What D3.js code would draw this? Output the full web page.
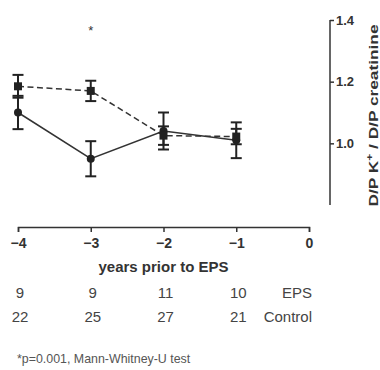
<!DOCTYPE html>
<html>
<head>
<meta charset="utf-8">
<script src="https://cdn.jsdelivr.net/npm/d3@7"></script>
<style>
  body { margin: 0; background: #fff; }
  svg { font-family: "Liberation Sans", Arial, sans-serif; }
  .axis path, .axis line { stroke: #333; stroke-width: 1.5; }
  .axis text { font-weight: bold; fill: #333; }
</style>
</head>
<body>
<div id="chart"></div>
<script>
const years = [-4, -3, -2, -1];
const xTicks = [-4, -3, -2, -1, 0];
const yTicks = [1.0, 1.2, 1.4];

const epsMean = [1.185, 1.17, 1.025, 1.022];
const epsErr = [0.037, 0.033, 0.03, 0.025];
const ctrlMean = [1.10, 0.95, 1.04, 1.01];
const ctrlErr = [0.054, 0.057, 0.06, 0.058];

const epsN = [9, 9, 11, 10];
const ctrlN = [22, 25, 27, 21];

const width = 380, height = 370;

const svg = d3.select("#chart").append("svg")
  .attr("width", width)
  .attr("height", height);

const x = d3.scaleLinear().domain([-4, 0]).range([18, 309]);
const y = d3.scaleLinear().domain([0.8, 1.4]).range([205, 20]);

// x axis
const xAxis = svg.append("g")
  .attr("class", "axis")
  .attr("transform", "translate(0,227)")
  .call(d3.axisBottom(x).tickValues(xTicks).tickFormat(d3.format("d"))
    .tickSize(5).tickPadding(6));
xAxis.selectAll("text").style("font-size", "14px");

svg.append("text")
  .attr("x", x(-2))
  .attr("y", 272)
  .attr("text-anchor", "middle")
  .style("font-size", "15px")
  .style("font-weight", "bold")
  .style("fill", "#333")
  .text("years prior to EPS");

// right y axis
const yAxis = svg.append("g")
  .attr("class", "axis")
  .attr("transform", "translate(330,0)")
  .call(d3.axisRight(y).tickValues(yTicks).tickFormat(d3.format(".1f"))
    .tickSize(4).tickSizeOuter(0).tickPadding(2));
yAxis.select(".domain").attr("d", `M0,${y(1.4)}V${y(0.8)}`);
yAxis.selectAll("text").style("font-size", "13px");

const yTitle = svg.append("text")
  .attr("transform", `translate(378,${(y(1.4) + y(0.8)) / 2 + 3}) rotate(-90)`)
  .attr("text-anchor", "middle")
  .attr("textLength", 182)
  .attr("lengthAdjust", "spacingAndGlyphs")
  .style("font-size", "13px")
  .style("font-weight", "bold")
  .style("fill", "#333");
yTitle.append("tspan").text("D/P K");
yTitle.append("tspan").attr("baseline-shift", "super").style("font-size", "9px").text("+");
yTitle.append("tspan").text(" / D/P creatinine");

// lines
const line = d3.line().x((d, i) => x(years[i])).y(d => y(d));

svg.append("path")
  .datum(ctrlMean)
  .attr("d", line)
  .attr("fill", "none")
  .attr("stroke", "#333")
  .attr("stroke-width", 1.5);

svg.append("path")
  .datum(epsMean)
  .attr("d", line)
  .attr("fill", "none")
  .attr("stroke", "#333")
  .attr("stroke-width", 1.5)
  .attr("stroke-dasharray", "6,3.5");

// error bars
function errorBars(mean, err) {
  const g = svg.append("g").attr("stroke", "#222").attr("stroke-width", 2);
  mean.forEach((m, i) => {
    const cx = x(years[i]);
    g.append("line").attr("x1", cx).attr("x2", cx).attr("y1", y(m - err[i])).attr("y2", y(m + err[i]));
    g.append("line").attr("x1", cx - 5.5).attr("x2", cx + 5.5).attr("y1", y(m - err[i])).attr("y2", y(m - err[i]));
    g.append("line").attr("x1", cx - 5.5).attr("x2", cx + 5.5).attr("y1", y(m + err[i])).attr("y2", y(m + err[i]));
  });
}
errorBars(ctrlMean, ctrlErr);
errorBars(epsMean, epsErr);

svg.selectAll(".ctrl-dot")
  .data(ctrlMean)
  .join("circle")
  .attr("cx", (d, i) => x(years[i]))
  .attr("cy", d => y(d))
  .attr("r", 4)
  .attr("fill", "#222");

svg.selectAll(".eps-sq")
  .data(epsMean)
  .join("rect")
  .attr("x", (d, i) => x(years[i]) - 4)
  .attr("y", d => y(d) - 4)
  .attr("width", 8)
  .attr("height", 8)
  .attr("fill", "#222");

// significance mark
svg.append("text")
  .attr("x", x(-3))
  .attr("y", 35)
  .attr("text-anchor", "middle")
  .style("font-size", "13px")
  .style("fill", "#333")
  .text("*");

// n table
function nRow(vals, label, yPos) {
  svg.selectAll(null)
    .data(vals)
    .join("text")
    .attr("x", (d, i) => x(years[i]) + 2)
    .attr("y", yPos)
    .attr("text-anchor", "middle")
    .style("font-size", "15px")
    .style("fill", "#444")
    .text(d => d);
  svg.append("text")
    .attr("x", x(0) + 3)
    .attr("y", yPos)
    .attr("text-anchor", "end")
    .style("font-size", "15px")
    .style("fill", "#444")
    .text(label);
}
nRow(epsN, "EPS", 298);
nRow(ctrlN, "Control", 322);

svg.append("text")
  .attr("x", 17)
  .attr("y", 363)
  .style("font-size", "12.4px")
  .style("fill", "#555")
  .text("*p=0.001, Mann-Whitney-U test");
</script>
</body>
</html>
